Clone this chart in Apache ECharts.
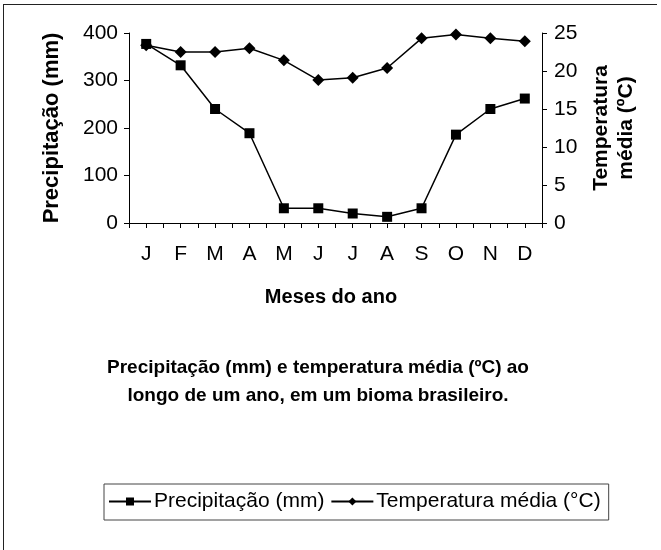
<!DOCTYPE html>
<html>
<head>
<meta charset="utf-8">
<script src="https://cdn.jsdelivr.net/npm/echarts@6/dist/echarts.min.js"></script>
<style>
html,body{margin:0;padding:0;background:#fff;}
#chart{width:661px;height:550px;}
</style>
</head>
<body>
<div id="chart"></div>
<script>
var months = ['J','F','M','A','M','J','J','A','S','O','N','D'];
var precipitacao = [377, 332, 240, 189, 31, 31, 20, 13, 31, 186, 240, 262];
var temperatura = [23.4, 22.5, 22.5, 23.0, 21.4, 18.8, 19.1, 20.4, 24.3, 24.8, 24.3, 23.9];
var precTicks = [0, 100, 200, 300, 400];
var tempTicks = [0, 5, 10, 15, 20, 25];

var FONT = '"Liberation Sans", Arial, sans-serif';
var chart = echarts.init(document.getElementById('chart'), null, {renderer: 'canvas'});

var axisLine = {show: true, lineStyle: {color: '#000', width: 1}};
var option = {
  backgroundColor: '#fff',
  animation: false,
  textStyle: {fontFamily: FONT, color: '#000'},
  grid: {left: 129, right: 119, top: 33, bottom: 327, containLabel: false},
  legend: {
    left: 104,
    top: 484,
    itemWidth: 42,
    itemHeight: 10,
    itemGap: 6,
    padding: [7, 8, 8, 4],
    borderColor: '#444',
    borderWidth: 1,
    textStyle: {fontFamily: FONT, fontSize: 21, color: '#000', padding: [0, 0, 0, -2]},
    data: ['Precipitação (mm)', 'Temperatura média (°C)']
  },
  xAxis: [
    {
      type: 'category',
      data: months,
      boundaryGap: true,
      axisLine: axisLine,
      axisTick: {show: true, interval: 0, length: 5, lineStyle: {color: '#000'}},
      axisLabel: {interval: 0, margin: 21, fontSize: 21, fontFamily: FONT, color: '#000'}
    },
    {
      type: 'category',
      data: months,
      position: 'bottom',
      boundaryGap: true,
      axisLine: {show: false},
      axisTick: {show: true, interval: 0, alignWithLabel: true, length: 5, lineStyle: {color: '#000'}},
      axisLabel: {show: false}
    }
  ],
  yAxis: [
    {
      type: 'value',
      min: 0, max: 400, interval: 100,
      position: 'left',
      axisLine: axisLine,
      axisTick: {show: true, length: 5, lineStyle: {color: '#000'}},
      splitLine: {show: false},
      axisLabel: {margin: 11, fontSize: 21, fontFamily: FONT, color: '#000'},
      name: 'Precipitação (mm)',
      nameLocation: 'middle',
      nameRotate: 90,
      nameGap: 66,
      nameTextStyle: {fontFamily: FONT, fontSize: 22, fontWeight: 'bold', color: '#000'}
    },
    {
      type: 'value',
      min: 0, max: 25, interval: 5,
      position: 'right',
      axisLine: axisLine,
      axisTick: {show: true, length: 5, lineStyle: {color: '#000'}},
      splitLine: {show: false},
      axisLabel: {margin: 12, fontSize: 21, fontFamily: FONT, color: '#000'},
      name: 'Temperatura\nmédia (ºC)',
      nameLocation: 'middle',
      nameRotate: 90,
      nameGap: 46,
      nameTextStyle: {fontFamily: FONT, fontSize: 21, fontWeight: 'bold', color: '#000', lineHeight: 25, align: 'center'}
    }
  ],
  series: [
    {
      name: 'Precipitação (mm)',
      type: 'line',
      xAxisIndex: 0, yAxisIndex: 0,
      data: precipitacao,
      symbol: 'rect',
      symbolSize: 10,
      itemStyle: {color: '#000'},
      lineStyle: {color: '#000', width: 1.5}
    },
    {
      name: 'Temperatura média (°C)',
      type: 'line',
      xAxisIndex: 0, yAxisIndex: 1,
      data: temperatura,
      symbol: 'diamond',
      symbolSize: 12,
      itemStyle: {color: '#000'},
      lineStyle: {color: '#000', width: 1.5}
    }
  ],
  graphic: [
    {type: 'line', shape: {x1: 3, y1: 4.5, x2: 657, y2: 4.5}, style: {stroke: '#222', lineWidth: 1}},
    {type: 'line', shape: {x1: 3.5, y1: 4, x2: 3.5, y2: 550}, style: {stroke: '#222', lineWidth: 1}},
    {type: 'text', x: 331, y: 297, style: {text: 'Meses do ano', fontFamily: FONT, fontSize: 20, fontWeight: 'bold', fill: '#000', textAlign: 'center', textVerticalAlign: 'middle'}},
    {type: 'text', x: 318, y: 368, style: {text: 'Precipitação (mm) e temperatura média (ºC) ao', fontFamily: FONT, fontSize: 19, fontWeight: 'bold', fill: '#000', textAlign: 'center', textVerticalAlign: 'middle'}},
    {type: 'text', x: 318, y: 396, style: {text: 'longo de um ano, em um bioma brasileiro.', fontFamily: FONT, fontSize: 19, fontWeight: 'bold', fill: '#000', textAlign: 'center', textVerticalAlign: 'middle'}}
  ]
};
chart.setOption(option);
</script>
</body>
</html>
